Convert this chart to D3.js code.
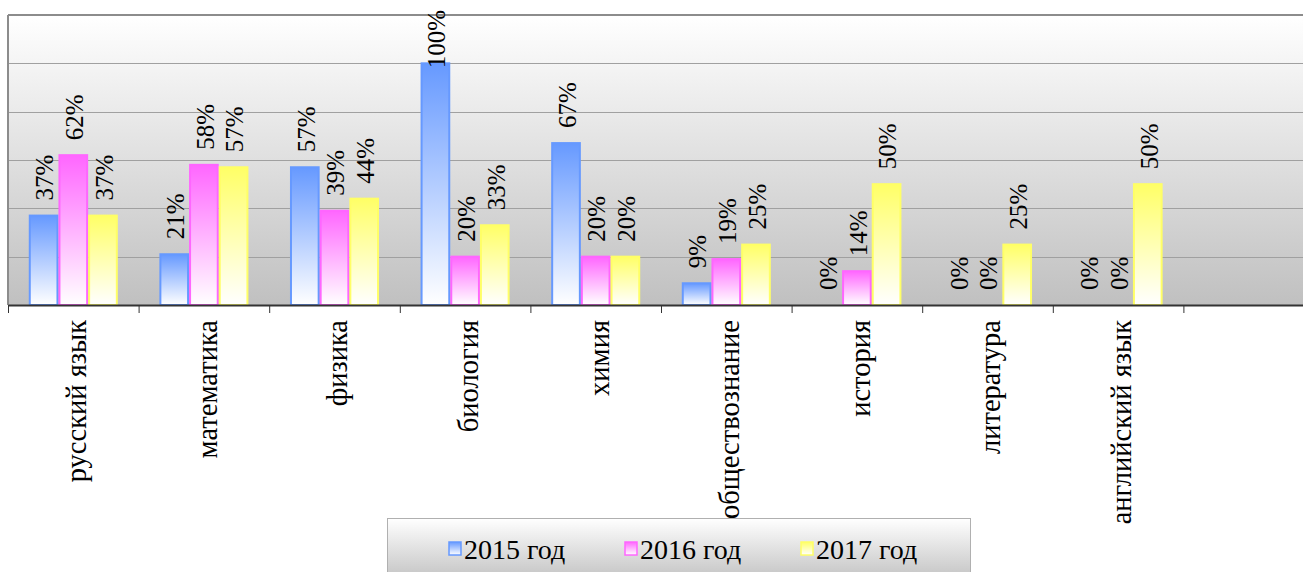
<!DOCTYPE html>
<html>
<head>
<meta charset="utf-8">
<script src="https://cdn.jsdelivr.net/npm/d3@7"></script>
<style>
  body { margin: 0; background: #ffffff; }
  svg { display: block; }
</style>
</head>
<body>
<svg id="chart"></svg>
<script>
// Data
let subjects = ['русский язык', 'математика', 'физика', 'биология', 'химия',
    'обществознание', 'история', 'литература', 'английский язык', ''];
let seriesNames = ['2015 год', '2016 год', '2017 год'];
let values2015 = [37, 21, 57, 100, 67, 9, 0, 0, 0];
let values2016 = [62, 58, 39, 20, 20, 19, 14, 0, 0];
let values2017 = [37, 57, 44, 33, 20, 25, 50, 25, 50];
let yTicks = [0, 20, 40, 60, 80, 100, 120];

let colors = ['#6699ff', '#ff66ff', '#ffff66'];
let serif = "'Liberation Serif'";

// SVG Dimensions
let width = 1303, height = 572;
let plotLeft = 8, plotRight = 1314, plotTop = 15, plotBottom = 305;

let svg = d3.select('#chart')
    .attr('width', width)
    .attr('height', height);

let defs = svg.append('defs');

// Background gradient of the plot area
let bgGrad = defs.append('linearGradient')
    .attr('id', 'bg-grad')
    .attr('x1', 0).attr('y1', 0).attr('x2', 0).attr('y2', 1);
bgGrad.append('stop').attr('offset', '0%').attr('stop-color', '#ffffff');
bgGrad.append('stop').attr('offset', '100%').attr('stop-color', '#c0c0c0');

// Bar gradients
colors.forEach((c, i) => {
    let g = defs.append('linearGradient')
        .attr('id', 'bar-grad-' + i)
        .attr('x1', 0).attr('y1', 0).attr('x2', 0).attr('y2', 1);
    g.append('stop').attr('offset', '0%').attr('stop-color', c);
    g.append('stop').attr('offset', '100%').attr('stop-color', '#ffffff');
});

let legGrad = defs.append('linearGradient')
    .attr('id', 'leg-grad')
    .attr('x1', 0).attr('y1', 0).attr('x2', 0).attr('y2', 1);
legGrad.append('stop').attr('offset', '0%').attr('stop-color', '#ffffff');
legGrad.append('stop').attr('offset', '100%').attr('stop-color', '#c4c4c4');

// Scales
let xScale = d3.scaleBand()
    .domain(subjects)
    .range([plotLeft, plotRight]);

let xInner = d3.scaleBand()
    .domain(seriesNames)
    .range([0, xScale.bandwidth()])
    .paddingOuter(0.7);

let yScale = d3.scaleLinear()
    .domain([0, 120])
    .range([plotBottom, plotTop]);

// Plot background
svg.append('rect')
    .attr('x', plotLeft)
    .attr('y', plotTop)
    .attr('width', plotRight - plotLeft)
    .attr('height', plotBottom - plotTop)
    .attr('fill', 'url(#bg-grad)');

// Gridlines
svg.append('g')
    .selectAll('line')
    .data(yTicks.filter(t => t > 0 && t < 120))
    .enter()
    .append('line')
    .attr('x1', plotLeft)
    .attr('x2', plotRight)
    .attr('y1', d => Math.round(yScale(d)) + 0.5)
    .attr('y2', d => Math.round(yScale(d)) + 0.5)
    .attr('stroke', '#a0a0a0')
    .attr('stroke-width', 1);

// Plot border (top + left)
svg.append('line')
    .attr('x1', plotLeft).attr('x2', plotRight)
    .attr('y1', plotTop).attr('y2', plotTop)
    .attr('stroke', '#8c8c8c').attr('stroke-width', 2);
svg.append('line')
    .attr('x1', plotLeft).attr('x2', plotLeft)
    .attr('y1', plotTop).attr('y2', plotBottom)
    .attr('stroke', '#8c8c8c').attr('stroke-width', 2);

// Bars
let table = subjects.slice(0, 9).map((s, i) => ({
    subject: s,
    vals: [values2015[i], values2016[i], values2017[i]]
}));

let groups = svg.append('g')
    .selectAll('g')
    .data(table)
    .enter()
    .append('g')
    .attr('transform', d => `translate(${xScale(d.subject)}, 0)`);

groups.selectAll('rect')
    .data(d => d.vals.map((v, i) => ({ v: v, i: i })))
    .enter()
    .append('rect')
    .attr('x', d => xInner(seriesNames[d.i]) + 1)
    .attr('y', d => yScale(d.v))
    .attr('width', xInner.bandwidth() - 2)
    .attr('height', d => plotBottom - yScale(d.v))
    .attr('fill', d => 'url(#bar-grad-' + d.i + ')')
    .attr('stroke', d => colors[d.i])
    .attr('stroke-width', 2);

// Data labels (rotated, kept inside the chart at the top)
groups.selectAll('text')
    .data(d => d.vals.map((v, i) => ({ v: v, i: i })))
    .enter()
    .append('text')
    .style('font-family', serif)
    .attr('font-size', 25)
    .attr('text-anchor', 'start')
    .attr('dy', '0.35em')
    .text(d => d.v + '%')
    .each(function (d) {
        let cx = xInner(seriesNames[d.i]) + xInner.bandwidth() / 2 + 1;
        let len = this.getComputedTextLength();
        let yb = Math.max(yScale(d.v) - 15, 10 + len);
        d3.select(this).attr('transform', `translate(${cx}, ${yb}) rotate(-90)`);
    });

// X axis
let xAxis = d3.axisBottom(xScale).tickSize(0).tickFormat('');
let axisG = svg.append('g')
    .attr('transform', `translate(0, ${plotBottom})`)
    .call(xAxis);
axisG.select('.domain').attr('stroke', '#333').attr('stroke-width', 2);

// Tick marks at category boundaries
svg.append('g')
    .selectAll('line')
    .data(subjects)
    .enter()
    .append('line')
    .attr('x1', d => xScale(d) + 0.5)
    .attr('x2', d => xScale(d) + 0.5)
    .attr('y1', plotBottom)
    .attr('y2', plotBottom + 8)
    .attr('stroke', '#333')
    .attr('stroke-width', 1);

// Category labels
svg.append('g')
    .selectAll('text')
    .data(subjects.slice(0, 9))
    .enter()
    .append('text')
    .style('font-family', serif)
    .attr('font-size', 28.5)
    .attr('text-anchor', 'end')
    .attr('dy', '0.35em')
    .attr('transform', d => `translate(${xScale(d) + xScale.bandwidth() / 2 + 3}, ${plotBottom + 15}) rotate(-90)`)
    .text(d => d);

// Legend
let legend = svg.append('g').attr('id', 'legend');
legend.append('rect')
    .attr('x', 387.5)
    .attr('y', 518.5)
    .attr('width', 583)
    .attr('height', 60)
    .attr('fill', 'url(#leg-grad)')
    .attr('stroke', '#b0b0b0')
    .attr('stroke-width', 1);

let legendX = [449, 625, 801];
let items = legend.selectAll('.legend-item')
    .data(seriesNames)
    .enter()
    .append('g')
    .attr('class', 'legend-item')
    .attr('transform', (d, i) => `translate(${legendX[i]}, 549)`);

items.append('rect')
    .attr('x', 0)
    .attr('y', -7)
    .attr('width', 12)
    .attr('height', 13)
    .attr('fill', (d, i) => 'url(#bar-grad-' + i + ')')
    .attr('stroke', (d, i) => colors[i])
    .attr('stroke-width', 1.5);

items.append('text')
    .style('font-family', serif)
    .attr('font-size', 28)
    .attr('x', 15)
    .attr('y', 0)
    .attr('dy', '0.35em')
    .text(d => d);
</script>
</body>
</html>
